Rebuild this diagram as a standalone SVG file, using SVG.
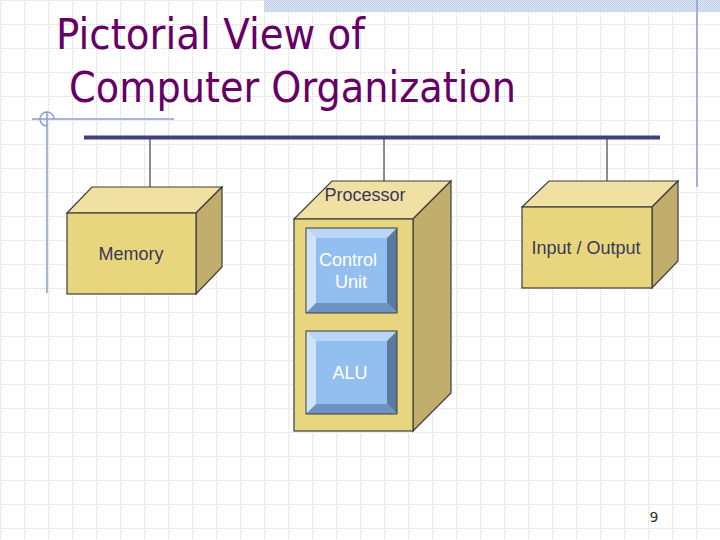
<svg xmlns="http://www.w3.org/2000/svg" width="720" height="540" viewBox="0 0 720 540">
<defs>
<pattern id="grid" patternUnits="userSpaceOnUse" x="0" y="0" width="24" height="24">
<path d="M0 0.5H24" stroke="#dadada" stroke-width="1" stroke-dasharray="1 1"/>
<path d="M0.5 0V24" stroke="#dadada" stroke-width="1" stroke-dasharray="1 1"/>
</pattern>
<pattern id="checker" patternUnits="userSpaceOnUse" width="2" height="2">
<rect width="2" height="2" fill="#e4ebf7"/>
<rect width="1" height="1" fill="#b9c9e6"/>
<rect x="1" y="1" width="1" height="1" fill="#b9c9e6"/>
</pattern>
<style>
.title{font-family:"DejaVu Sans","Liberation Sans",sans-serif;font-size:43px;fill:#660066}
.lbl{font-family:"Liberation Sans",Arial,sans-serif;font-size:18px;fill:#383858;text-anchor:middle}
.wlbl{font-family:"Liberation Sans",Arial,sans-serif;font-size:18px;fill:#ffffff;text-anchor:middle}
.front{fill:#e8d67e;stroke:#3c3c3c;stroke-width:1.2}
.top{fill:#f0e1a2;stroke:#3c3c3c;stroke-width:1.2}
.side{fill:#c1ad6c;stroke:#3c3c3c;stroke-width:1.2}
.drop{stroke:#404048;stroke-width:1.2;fill:none}
.bus{stroke:#3f4182;stroke-width:4;fill:none}
.deco{stroke:#8d9dc8;stroke-width:1.5;fill:none}
.bface{fill:#93bff0}
.btop{fill:#b9d6f8}
.bleft{fill:#cfe4fc}
.bright{fill:#5a7aa2}
.bbot{fill:#6d93c2}
.bout{fill:none;stroke:#3c3c3c;stroke-width:1}
</style>
</defs>
<rect width="720" height="540" fill="#ffffff"/>
<rect width="720" height="540" fill="url(#grid)"/>
<rect x="264" y="0" width="456" height="12" fill="url(#checker)"/>
<g id="decoration">
<line class="deco" x1="697" y1="0" x2="697" y2="187"/>
<line class="deco" x1="32" y1="119" x2="174" y2="119"/>
<line class="deco" x1="47" y1="112" x2="47" y2="293"/>
<path class="deco" d="M47 126 A7 7 0 0 1 47 112 M47 112 A7 7 0 0 1 54 119"/>
</g>
<g id="title">
<text class="title" x="56" y="49" textLength="309" lengthAdjust="spacingAndGlyphs">Pictorial View of</text>
<text class="title" x="69" y="102" textLength="447" lengthAdjust="spacingAndGlyphs">Computer Organization</text>
</g>
<g id="connectors">
<line class="bus" x1="84" y1="137.5" x2="660" y2="137.5"/>
<line class="drop" x1="150" y1="139" x2="150" y2="187"/>
<line class="drop" x1="384" y1="139" x2="384" y2="181"/>
<line class="drop" x1="607" y1="139" x2="607" y2="181"/>
</g>
<g id="memory">
<polygon class="top" points="67,213 92,187 222,187 196,213"/>
<polygon class="side" points="196,213 222,187 222,267 196,294"/>
<rect class="front" x="67" y="213" width="129" height="81"/>
<text class="lbl" x="131" y="260">Memory</text>
</g>
<g id="processor">
<polygon class="top" points="294,219 332,181 451,181 413,219"/>
<polygon class="side" points="413,219 451,181 451,393 413,431"/>
<rect class="front" x="294" y="219" width="119" height="212"/>
<text class="lbl" x="365" y="201">Processor</text>
</g>
<g id="control-unit">
<polygon class="btop" points="306,228 397,228 387,238 316,238"/>
<polygon class="bleft" points="306,228 316,238 316,303 306,313"/>
<polygon class="bright" points="397,228 397,313 387,303 387,238"/>
<polygon class="bbot" points="306,313 316,303 387,303 397,313"/>
<rect class="bface" x="316" y="238" width="71" height="65"/>
<rect class="bout" x="306" y="228" width="91" height="85"/>
<text class="wlbl" x="348" y="266">Control</text>
<text class="wlbl" x="351" y="288">Unit</text>
</g>
<g id="alu">
<polygon class="btop" points="306,331 397,331 387,341 316,341"/>
<polygon class="bleft" points="306,331 316,341 316,404 306,414"/>
<polygon class="bright" points="397,331 397,414 387,404 387,341"/>
<polygon class="bbot" points="306,414 316,404 387,404 397,414"/>
<rect class="bface" x="316" y="341" width="71" height="63"/>
<rect class="bout" x="306" y="331" width="91" height="83"/>
<text class="wlbl" x="350" y="379">ALU</text>
</g>
<g id="input-output">
<polygon class="top" points="522,207 549,181 678,181 652,207"/>
<polygon class="side" points="652,207 678,181 678,261 652,288"/>
<rect class="front" x="522" y="207" width="130" height="81"/>
<text class="lbl" x="586" y="254">Input / Output</text>
</g>
<text x="654" y="522" font-family="DejaVu Sans, sans-serif" font-size="14" fill="#333333" text-anchor="middle">9</text>
</svg>
